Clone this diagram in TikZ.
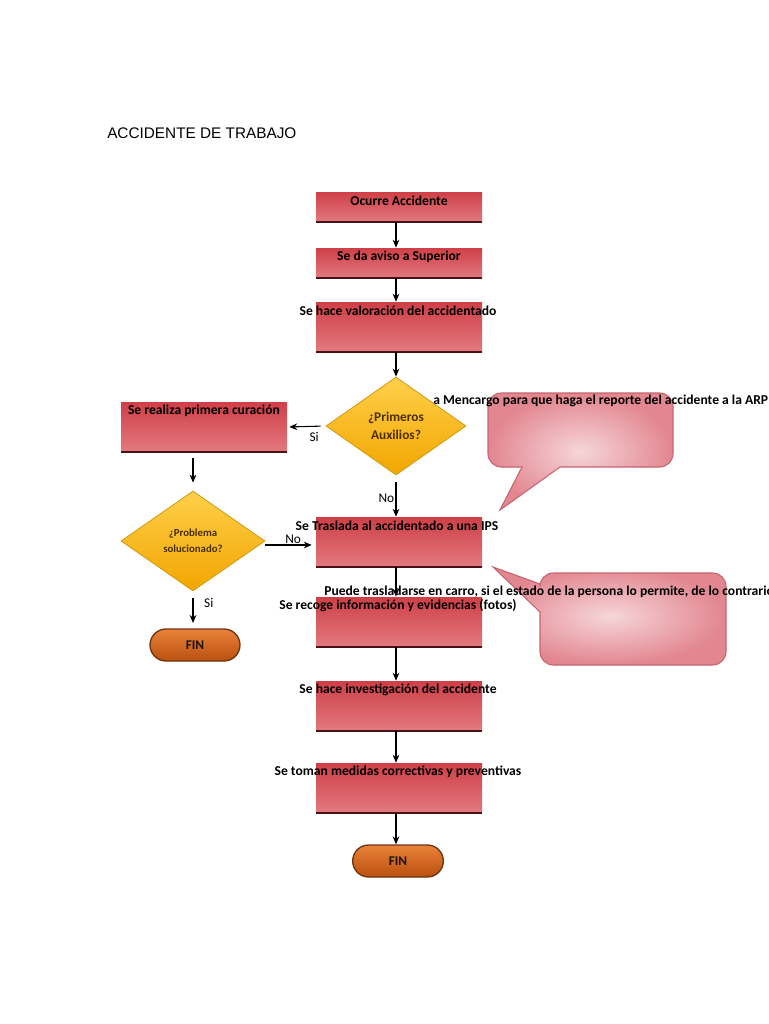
\documentclass[tikz,border=0pt]{standalone}
\usepackage{fontspec}
\setmainfont{Carlito}
\newfontfamily\arialf{Liberation Sans}
\usetikzlibrary{shapes.geometric,arrows.meta}
\definecolor{boxtop}{HTML}{CF3F47}
\definecolor{boxmid}{HTML}{BF1F29}
\definecolor{boxbot}{HTML}{E27A7F}
\definecolor{boxedge}{HTML}{4A1214}
\definecolor{dtop}{HTML}{FFCF4A}
\definecolor{dbot}{HTML}{F2A600}
\definecolor{dedge}{HTML}{D09A10}
\definecolor{dtext}{HTML}{4A2E00}
\definecolor{ftop}{HTML}{E9823A}
\definecolor{fbot}{HTML}{B9500F}
\definecolor{fedge}{HTML}{6E3410}
\definecolor{cin}{HTML}{F6D6D9}
\definecolor{cout}{HTML}{E28690}
\definecolor{cedge}{HTML}{C56470}
\begin{document}
\begin{tikzpicture}[x=0.75pt,y=-0.75pt,
  redbox/.style={rectangle,minimum width=124.5pt,inner sep=0pt,
    top color=boxtop,middle color=boxmid,bottom color=boxbot,
    path picture={\draw[line width=2pt,boxedge] (path picture bounding box.south west) -- (path picture bounding box.south east);}},
  decision/.style={diamond,inner sep=0pt,top color=dtop,bottom color=dbot,draw=dedge,line width=0.6pt,
    text=dtext,font=\fontsize{10}{13.5}\selectfont\bfseries,align=center},
  finpill/.style={rectangle,rounded corners=12pt,minimum width=67.5pt,minimum height=24pt,
    top color=ftop,bottom color=fbot,draw=fedge,line width=1pt,
    text=black!85!brown,font=\fontsize{10}{12}\selectfont\bfseries},
  lbl/.style={inner sep=0pt,text=black,font=\fontsize{10.2}{12}\selectfont\bfseries},
  yn/.style={inner sep=0pt,text=black,font=\fontsize{10}{12}\selectfont},
  callout/.style={inner color=cin,outer color=cout,draw=cedge,line width=0.8pt},
  arr/.style={-{Stealth[length=6pt,width=5pt]},line width=0.8pt,black}]
\useasboundingbox (0,0) rectangle (768,1024);

% title
\node[anchor=west,inner sep=0pt,font=\arialf\fontsize{11.5}{13}\selectfont] (title) at (107,133) {ACCIDENTE DE TRABAJO};

% callouts
\path[callout] (500,510) -- (560,467) [rounded corners=10pt] -- (673,467) -- (673,393) -- (488,393) -- (488,467) [sharp corners] -- (522,467) -- cycle;
\path[callout] (493,567) -- (540,612) [rounded corners=10pt] -- (540,665) -- (726,665) -- (726,573) -- (540,573) [sharp corners] -- (540,584) -- cycle;

% boxes
\node[redbox,minimum height=22.5pt] (b1) at (399,207) {};
\node[redbox,minimum height=22.5pt] (b2) at (399,263) {};
\node[redbox,minimum height=37.5pt] (b3) at (399,327) {};
\node[redbox,minimum height=37.5pt] (bcur) at (204,427) {};
\node[redbox,minimum height=37.5pt] (btras) at (399,542) {};
\node[redbox,minimum height=37.5pt] (brec) at (399,622) {};
\node[redbox,minimum height=37.5pt] (binv) at (399,706) {};
\node[redbox,minimum height=37.5pt] (bmed) at (399,788) {};

% box texts
\node[lbl] (t1) at (399,201) {Ocurre Accidente};
\node[lbl] (t2) at (399,257) {Se da aviso a Superior};
\node[lbl] (t3) at (398,311) {Se hace valoración del accidentado};
\node[lbl] (tcur) at (204,411) {Se realiza primera curación};
\node[lbl] (ttras) at (397,526) {Se Traslada al accidentado a una IPS};
\node[lbl] (trec) at (398,606) {Se recoge información y evidencias (fotos)};
\node[lbl] (tinv) at (398,690) {Se hace investigación del accidente};
\node[lbl] (tmed) at (398,772) {Se toman medidas correctivas y preventivas};

% callout texts
\node[lbl,anchor=west] (c1) at (433,401) {a Mencargo para que haga el reporte del accidente a la ARP};
\node[lbl,anchor=west] (c2) at (324,592) {Puede trasladarse en carro, si el estado de la persona lo permite, de lo contrario};

% decisions
\node[decision,minimum width=105pt,minimum height=73.5pt] (d1) at (396,426) {¿Primeros\\Auxilios?};
\node[decision,minimum width=108pt,minimum height=75pt,font=\fontsize{8.1}{12}\selectfont\bfseries] (d2) at (193,541) {¿Problema\\solucionado?};

% ends
\node[finpill] (fin1) at (195,645) {FIN};
\node[finpill,minimum width=68pt] (fin2) at (398,861) {FIN};

% connectors
\draw[arr] (b1.south -| 396,0) -- (b2.north -| 396,0);
\draw[arr] (b2.south -| 396,0) -- (b3.north -| 396,0);
\draw[arr] (b3.south -| 396,0) -- (d1.north);
\draw[arr,shorten <=5.25pt] (d1.south) -- (btras.north -| 396,0) node[yn,pos=0.55,left=1pt] (no1) {No};
\draw[arr,shorten <=3.75pt,shorten >=1.5pt] (d1.west) -- (bcur.east) node[yn,pos=0.3,below=4pt] (si1) {Si};
\draw[arr,shorten <=4.5pt,shorten >=6pt] (bcur.south -| 193,0) -- (d2.north);
\draw[arr,shorten >=3pt] (d2.east |- 0,545) -- (btras.west |- 0,545) node[yn,pos=0.55,above=1pt] (no2) {No};
\draw[arr,shorten <=5pt,shorten >=4pt] (d2.south) -- (fin1.north -| 193,0) node[yn,pos=0.3,right=8pt] (si2) {Si};
\draw[arr] (btras.south -| 396,0) -- (brec.north -| 396,0);
\draw[arr] (brec.south -| 396,0) -- (binv.north -| 396,0);
\draw[arr] (binv.south -| 396,0) -- (bmed.north -| 396,0);
\draw[arr] (bmed.south -| 396,0) -- (fin2.north -| 396,0);
\end{tikzpicture}
\end{document}
